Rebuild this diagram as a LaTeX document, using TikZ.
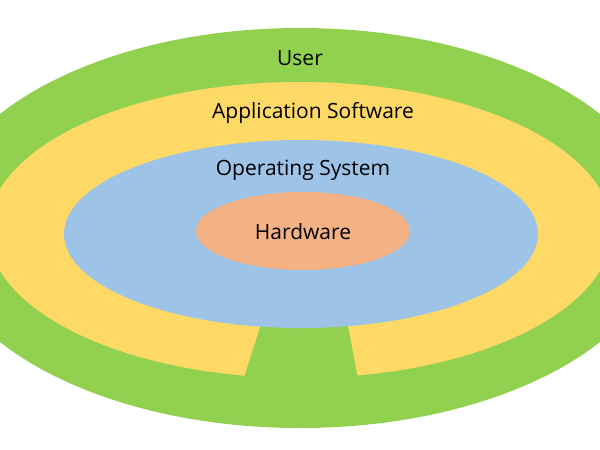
\documentclass[tikz,border=0pt]{standalone}
\usepackage{fontspec}
\setmainfont{Open Sans}
\begin{document}
\begin{tikzpicture}[x=1pt,y=-1pt,
  lbl/.style={font=\fontsize{21}{24}\selectfont, text=black}]
\useasboundingbox (0,0) rectangle (600,450);
\clip (0,0) rectangle (600,450);
\fill[white] (0,0) rectangle (600,450);
\fill[fill={rgb,255:red,146;green,208;blue,80}] (300,228) ellipse [x radius=365, y radius=200];
\fill[fill={rgb,255:red,255;green,217;blue,102}] (300,230) ellipse [x radius=312, y radius=148];
\fill[fill={rgb,255:red,146;green,208;blue,80}] (264,315) -- (346,315) -- (360,390) -- (240,390) -- cycle;
\fill[fill={rgb,255:red,157;green,195;blue,230}] (301,234) ellipse [x radius=237, y radius=94];
\fill[fill={rgb,255:red,244;green,177;blue,131}] (303,231) ellipse [x radius=107, y radius=39];
\node[lbl] (user) at (300,58) {User};
\node[lbl] (app) at (313,113) {Application Software};
\node[lbl] (os) at (303,170) {Operating System};
\node[lbl] (hw) at (303,232) {Hardware};
\end{tikzpicture}
\end{document}
